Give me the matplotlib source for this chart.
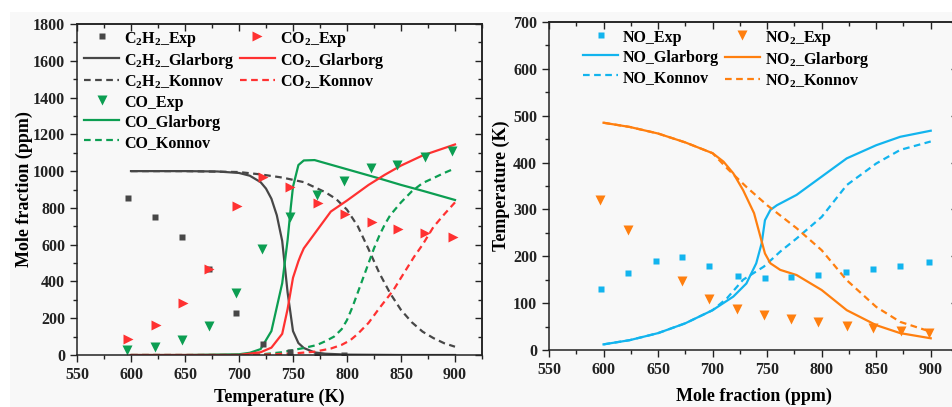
import matplotlib
matplotlib.use("Agg")
import matplotlib.pyplot as plt
from matplotlib.lines import Line2D
from matplotlib.patches import Rectangle
from matplotlib.ticker import MultipleLocator

plt.rcParams['font.family'] = ['Liberation Serif', 'DejaVu Serif']
plt.rcParams['font.weight'] = 'bold'
plt.rcParams['mathtext.default'] = 'regular'

# ---------------- data: left panel ----------------
T_exp = [597, 622, 647, 672, 697, 722, 747, 772, 797]
c2h2_exp = [852, 750, 641, 470, 228, 60, 18, 2, 2]

T_co2_exp = [597, 623, 648, 672, 698, 722, 747, 773, 798, 823, 847, 872, 898]
co2_exp = [87, 163, 281, 469, 812, 966, 911, 828, 765, 725, 687, 661, 640]

T_co_exp = [596, 622, 647, 672, 697, 721, 747, 772, 797, 822, 846, 872, 897]
co_exp = [27, 45, 82, 160, 335, 574, 748, 870, 946, 1018, 1033, 1078, 1111]

T_c2h2_g = [600, 650, 680, 700, 710, 720, 725, 730, 735, 740, 745, 750, 755, 760, 770, 780, 800, 850, 900]
c2h2_g = [1000, 1000, 998, 990, 975, 940, 905, 850, 760, 620, 340, 130, 65, 38, 14, 7, 2, 0, 0]

T_c2h2_k = [600, 650, 700, 720, 740, 760, 780, 790, 800, 810, 820, 830, 840, 850, 860, 870, 880, 890, 900]
c2h2_k = [1000, 1000, 995, 982, 965, 940, 885, 848, 790, 700, 575, 445, 335, 245, 178, 127, 92, 64, 45]

T_co_g = [600, 650, 700, 710, 720, 730, 740, 745, 748, 750, 755, 760, 770, 800, 830, 850, 870, 900]
co_g = [0, 0, 4, 12, 32, 130, 390, 625, 806, 915, 1033, 1058, 1060, 1010, 960, 925, 893, 843]

T_co_k = [600, 700, 720, 740, 750, 760, 772, 780, 788, 795, 800, 805, 810, 815, 820, 825, 830, 835, 840, 850, 860, 870, 880, 890, 900]
co_k = [0, 0, 3, 15, 27, 38, 54, 75, 100, 140, 190, 260, 340, 420, 500, 580, 650, 710, 760, 830, 890, 935, 962, 990, 1015]

T_co2_g = [600, 650, 700, 720, 730, 740, 745, 750, 755, 757, 760, 770, 780, 785, 800, 820, 835, 850, 870, 900]
co2_g = [0, 0, 0, 15, 40, 115, 250, 420, 510, 540, 580, 660, 740, 780, 840, 925, 980, 1030, 1085, 1145]

T_co2_k = [600, 700, 720, 750, 770, 785, 795, 803, 810, 820, 830, 843, 850, 862, 870, 880, 890, 900]
co2_k = [0, 0, 2, 8, 18, 35, 55, 80, 115, 175, 255, 353, 420, 533, 600, 696, 765, 830]

# ---------------- data: right panel ----------------
T_no_exp = [598, 622, 648, 672, 697, 723, 748, 772, 797, 822, 847, 872, 898]
no_exp = [130, 164, 191, 198, 179, 157, 154, 156, 160, 166, 173, 180, 187]

T_no2_exp = [597, 622, 672, 697, 722, 747, 772, 797, 823, 847, 873, 898]
no2_exp = [320, 257, 148, 109, 87, 75, 66, 60, 52, 48, 41, 36]

T_no_g = [600, 624, 650, 675, 700, 719, 731, 740, 745, 748, 753, 759, 777, 800, 823, 850, 872, 900]
no_g = [12, 21, 36, 57, 85, 114, 142, 185, 228, 277, 299, 309, 331, 370, 409, 437, 455, 468]

T_no_k = [600, 624, 650, 675, 700, 713, 728, 747, 762, 777, 800, 823, 850, 872, 900]
no_k = [12, 21, 36, 57, 85, 110, 150, 178, 210, 238, 284, 352, 398, 427, 445]

T_no2_g = [600, 624, 650, 675, 700, 710, 719, 728, 738, 743, 748, 753, 762, 777, 800, 823, 850, 872, 900]
no2_g = [485, 476, 462, 443, 420, 402, 377, 341, 292, 249, 206, 185, 171, 160, 128, 85, 53, 36, 25]

T_no2_k = [600, 624, 650, 675, 700, 714, 731, 750, 777, 800, 823, 850, 872, 900]
no2_k = [485, 476, 462, 443, 420, 386, 348, 309, 260, 213, 149, 92, 60, 39]

GRAY = '#474747'
RED = '#ff3131'
GREEN = '#0c9e52'
BLUE = '#12b4ee'
ORANGE = '#ff7f0f'
BG = '#f8f8f8'
INK = '#222222'

fig = plt.figure(figsize=(9.52, 4.07), dpi=100)
fig.patch.set_facecolor('white')
fig.add_artist(Rectangle((10 / 952, 0), 1, 1 - 12 / 407, transform=fig.transFigure,
                         facecolor=BG, edgecolor='none', zorder=-10))

ax1 = fig.add_axes([77 / 952, 1 - 355 / 407, 405 / 952, 331 / 407])
ax2 = fig.add_axes([549 / 952, 1 - 350 / 407, 409 / 952, 328 / 407])

lw = 1.6
dash = (0, (3, 2))

# left panel
ax1.plot(T_c2h2_g, c2h2_g, color=GRAY, lw=lw)
ax1.plot(T_c2h2_k, c2h2_k, color=GRAY, lw=lw, ls=dash)
ax1.plot(T_co_g, co_g, color=GREEN, lw=lw)
ax1.plot(T_co_k, co_k, color=GREEN, lw=lw, ls=dash)
ax1.plot(T_co2_g, co2_g, color=RED, lw=lw)
ax1.plot(T_co2_k, co2_k, color=RED, lw=lw, ls=dash)
ax1.plot(T_exp, c2h2_exp, 's', color=GRAY, ms=5, mec='none')
ax1.plot(T_co2_exp, co2_exp, '>', color=RED, ms=7, mec='none')
ax1.plot(T_co_exp, co_exp, 'v', color=GREEN, ms=7, mec='none')

# right panel
ax2.plot(T_no_g, no_g, color=BLUE, lw=lw)
ax2.plot(T_no_k, no_k, color=BLUE, lw=lw, ls=dash)
ax2.plot(T_no2_g, no2_g, color=ORANGE, lw=lw)
ax2.plot(T_no2_k, no2_k, color=ORANGE, lw=lw, ls=dash)
ax2.plot(T_no_exp, no_exp, 's', color=BLUE, ms=5, mec='none')
ax2.plot(T_no2_exp, no2_exp, 'v', color=ORANGE, ms=7, mec='none')

ax1.set_ylim(0, 1800)
ax1.yaxis.set_major_locator(MultipleLocator(200))
ax1.yaxis.set_minor_locator(MultipleLocator(100))
ax2.set_ylim(0, 700)
ax2.yaxis.set_major_locator(MultipleLocator(100))
ax2.yaxis.set_minor_locator(MultipleLocator(50))

for ax, ymaj, ymin in ((ax1, 200, 100), (ax2, 100, 50)):
    ax.set_facecolor(BG)
    ax.set_xlim(550, 925)
    ax.xaxis.set_major_locator(MultipleLocator(50))
    ax.xaxis.set_minor_locator(MultipleLocator(25))
    ax.tick_params(which='both', labelsize=11.5, width=1, direction='out', colors=INK)
    ax.tick_params(which='major', length=5)
    ax.tick_params(which='minor', length=3)
    plt.setp(ax.get_xticklabels() + ax.get_yticklabels(), fontweight='bold')
    for s in ax.spines.values():
        s.set_linewidth(1.1)
        s.set_color(INK)
    # inward ticks on top and right
    sx = ax.secondary_xaxis('top')
    sx.xaxis.set_major_locator(MultipleLocator(50))
    sx.xaxis.set_minor_locator(MultipleLocator(25))
    sx.tick_params(which='both', direction='in', labeltop=False, width=1, colors=INK)
    sx.tick_params(which='major', length=5)
    sx.tick_params(which='minor', length=3)
    sy = ax.secondary_yaxis('right')
    sy.yaxis.set_major_locator(MultipleLocator(ymaj))
    sy.yaxis.set_minor_locator(MultipleLocator(ymin))
    sy.tick_params(which='both', direction='in', labelright=False, width=1, colors=INK)
    sy.tick_params(which='major', length=5)
    sy.tick_params(which='minor', length=3)
    for s in list(sx.spines.values()) + list(sy.spines.values()):
        s.set_linewidth(1.1)
        s.set_color(INK)

ax1.set_xlabel('Temperature (K)', fontsize=13, fontweight='bold', labelpad=4)
ax1.set_ylabel('Mole fraction (ppm)', fontsize=13, fontweight='bold', labelpad=0)
ax2.set_xlabel('Mole fraction (ppm)', fontsize=13, fontweight='bold', labelpad=7)
ax2.set_ylabel('Temperature (K)', fontsize=13, fontweight='bold', labelpad=2)

blank = Line2D([], [], ls='none', marker=None)
h1 = [
    Line2D([], [], ls='none', marker='s', color=GRAY, ms=5, mec='none'),
    Line2D([], [], color=GRAY, lw=lw),
    Line2D([], [], color=GRAY, lw=lw, ls=dash),
    Line2D([], [], ls='none', marker='v', color=GREEN, ms=7, mec='none'),
    Line2D([], [], color=GREEN, lw=lw),
    Line2D([], [], color=GREEN, lw=lw, ls=dash),
    Line2D([], [], ls='none', marker='>', color=RED, ms=7, mec='none'),
    Line2D([], [], color=RED, lw=lw),
    Line2D([], [], color=RED, lw=lw, ls=dash),
    blank, blank, blank,
]
l1 = [r'C$_2$H$_2$_Exp', r'C$_2$H$_2$_Glarborg', r'C$_2$H$_2$_Konnov',
      'CO_Exp', 'CO_Glarborg', 'CO_Konnov',
      r'CO$_2$_Exp', r'CO$_2$_Glarborg', r'CO$_2$_Konnov', '', '', '']
legprops = {'family': 'Liberation Serif', 'weight': 'bold', 'size': 11.5}
legkw = dict(ncol=2, loc='upper left', frameon=False, prop=legprops, borderpad=0,
             borderaxespad=0, handlelength=2.2, handleheight=1.3, handletextpad=0.3,
             columnspacing=0.35, labelspacing=0.12)
ax1.legend(h1, l1, bbox_to_anchor=(7 / 405, 1 - 5 / 331), **legkw)

h2 = [
    Line2D([], [], ls='none', marker='s', color=BLUE, ms=5, mec='none'),
    Line2D([], [], color=BLUE, lw=lw),
    Line2D([], [], color=BLUE, lw=lw, ls=dash),
    Line2D([], [], ls='none', marker='v', color=ORANGE, ms=7, mec='none'),
    Line2D([], [], color=ORANGE, lw=lw),
    Line2D([], [], color=ORANGE, lw=lw, ls=dash),
]
l2 = ['NO_Exp', 'NO_Glarborg', 'NO_Konnov',
      r'NO$_2$_Exp', r'NO$_2$_Glarborg', r'NO$_2$_Konnov']
ax2.legend(h2, l2, bbox_to_anchor=(34 / 409, 1 - 6 / 328), **legkw)

fig.savefig('out.png', dpi=100, facecolor=fig.get_facecolor())
